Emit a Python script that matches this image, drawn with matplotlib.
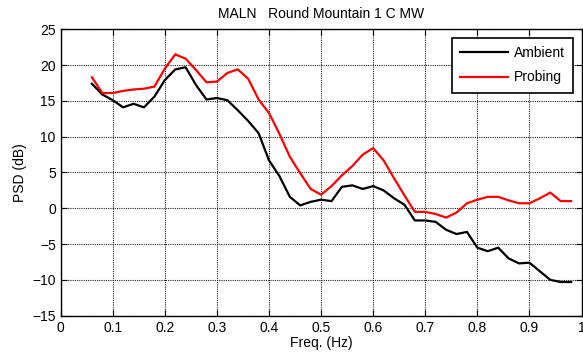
import numpy as np
import matplotlib.pyplot as plt

plt.rcParams['font.family'] = ['Liberation Sans', 'DejaVu Sans']

# Frequency samples (Hz)
freq = np.arange(0.06, 0.99, 0.02)

# PSD (dB)
ambient = [17.4, 15.9, 15.1, 14.1, 14.6, 14.1, 15.6, 17.9, 19.4, 19.7,
           17.2, 15.2, 15.4, 15.1, 13.7, 12.2, 10.5, 6.7, 4.5, 1.6,
           0.4, 0.9, 1.2, 1.0, 3.0, 3.2, 2.7, 3.1, 2.5, 1.4,
           0.5, -1.7, -1.7, -1.9, -3.0, -3.6, -3.3, -5.5, -6.0, -5.5,
           -7.0, -7.7, -7.6, -8.8, -10.0, -10.3, -10.3]
probing = [18.3, 16.1, 16.1, 16.4, 16.6, 16.7, 17.0, 19.5, 21.5, 20.9,
           19.3, 17.6, 17.7, 18.9, 19.4, 18.1, 15.2, 13.3, 10.4, 7.2,
           4.9, 2.7, 1.9, 3.1, 4.6, 5.9, 7.5, 8.4, 6.7, 4.2,
           1.8, -0.5, -0.5, -0.8, -1.3, -0.6, 0.7, 1.2, 1.6, 1.6,
           1.1, 0.7, 0.7, 1.4, 2.2, 1.0, 1.0]

fig = plt.figure(figsize=(5.83, 3.62), dpi=100)
ax = fig.add_axes([0.104, 0.128, 0.8935, 0.791])

ax.plot(freq, ambient, color='black', lw=1.6, label='Ambient')
ax.plot(freq, probing, color='red', lw=1.6, label='Probing')

ax.set_xlim(0, 1)
ax.set_ylim(-15, 25)
ax.set_xticks(np.arange(0, 1.01, 0.1))
ax.set_xticklabels(['0', '0.1', '0.2', '0.3', '0.4', '0.5', '0.6', '0.7', '0.8', '0.9', '1'])
ax.set_yticks(np.arange(-15, 26, 5))
ax.grid(True, color='#222222', linestyle=(0, (1, 1)), linewidth=0.8)
ax.tick_params(direction='in', top=True, right=True, labelsize=10, length=4)
for s in ax.spines.values():
    s.set_linewidth(1.0)

ax.set_title('MALN   Round Mountain 1 C MW', fontsize=10, pad=8)
ax.set_xlabel('Freq. (Hz)', fontsize=10, labelpad=1)
ax.set_ylabel('PSD (dB)', fontsize=10)

leg = ax.legend(loc='upper right', fontsize=10, fancybox=False, framealpha=1,
                edgecolor='black', borderaxespad=0.6, handlelength=3.4,
                handletextpad=0.45, labelspacing=0.75, borderpad=0.6)
leg.get_frame().set_linewidth(1.2)

fig.savefig('out.png', dpi=100)
